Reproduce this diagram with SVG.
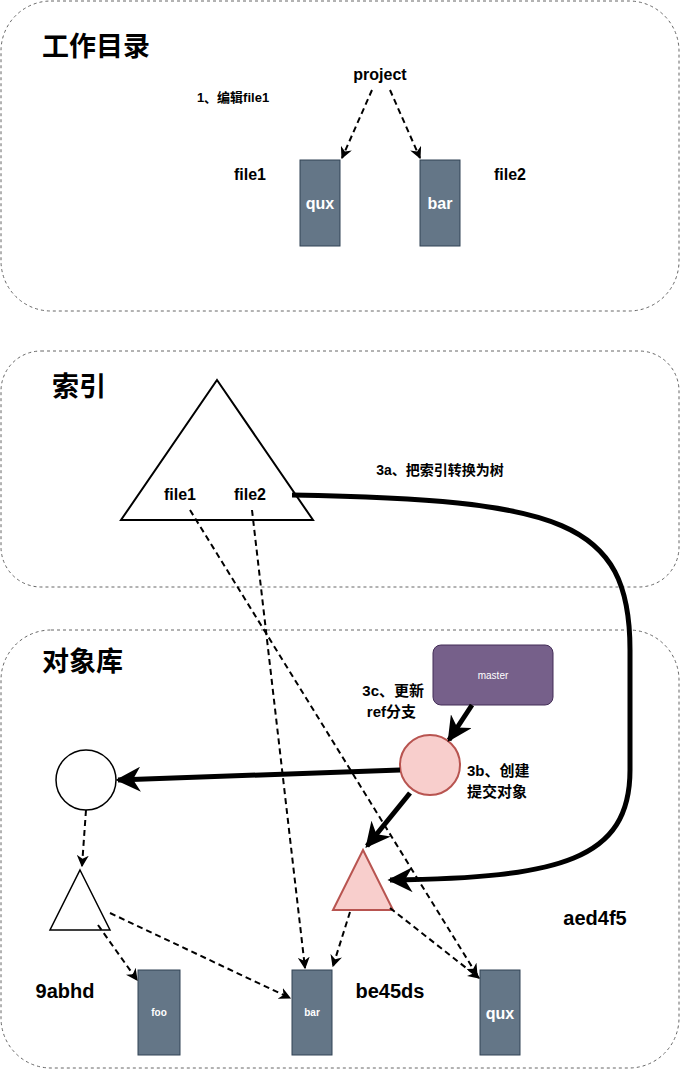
<svg xmlns="http://www.w3.org/2000/svg" width="681" height="1071" viewBox="0 0 681 1071">
<defs>
<style>
text{font-family:"Liberation Sans","Noto Sans CJK SC",sans-serif;font-weight:bold;fill:#000}
.sec{fill:#fff;stroke:#666;stroke-dasharray:3 3}
.blk{fill:#647687;stroke:#314354}
.d{fill:none;stroke:#000;stroke-width:2;stroke-dasharray:6 4}
.t{fill:none;stroke:#000;stroke-width:5}
</style>
<marker id="a" viewBox="0 0 10 10" refX="9" refY="5" markerWidth="5" markerHeight="5" orient="auto"><path d="M0,0 L10,5 L0,10 L3,5 z"/></marker>
<marker id="b" viewBox="0 0 10 10" refX="9" refY="5" markerWidth="6" markerHeight="6" orient="auto"><path d="M0,0 L10,5 L0,10 L3,5 z"/></marker>
</defs>
<g id="sec1"><rect class="sec" x="1" y="1" width="678" height="310" rx="50"/><text x="42" y="56" font-size="27">工作目录</text></g>
<g id="sec2"><rect class="sec" x="1" y="351" width="678" height="236" rx="40"/><text x="52" y="396" font-size="27">索引</text></g>
<g id="sec3"><rect class="sec" x="1" y="630" width="678" height="438" rx="50"/><text x="42" y="671" font-size="27">对象库</text></g>
<g id="project"><text x="380" y="80" font-size="16" text-anchor="middle">project</text></g>
<g id="note1"><text x="233" y="102" font-size="13" text-anchor="middle">1、编辑file1</text></g>
<g id="qux1"><rect class="blk" x="300" y="160" width="40" height="86"/><text x="320" y="209" font-size="16" text-anchor="middle" style="fill:#fff">qux</text></g>
<g id="bar1"><rect class="blk" x="420" y="160" width="40" height="86"/><text x="440" y="209" font-size="16" text-anchor="middle" style="fill:#fff">bar</text></g>
<g id="lf1"><text x="250" y="180" font-size="16" text-anchor="middle">file1</text></g>
<g id="lf2"><text x="510" y="180" font-size="16" text-anchor="middle">file2</text></g>
<g id="index"><path d="M217,380 L313,520 L121,520 Z" fill="#fff" stroke="#000" stroke-width="2"/><text x="180" y="500" font-size="16" text-anchor="middle">file1</text><text x="250" y="500" font-size="16" text-anchor="middle">file2</text></g>
<g id="note3a"><text x="440" y="475" font-size="14" text-anchor="middle">3a、把索引转换为树</text></g>
<g id="master"><rect x="433" y="645" width="120" height="60" rx="8" fill="#76608a" stroke="#432d57"/><text x="493" y="679" font-size="10" text-anchor="middle" style="fill:#fff;font-weight:normal">master</text></g>
<g id="commit"><circle cx="430" cy="765" r="30" fill="#f8cecc" stroke="#b85450" stroke-width="2"/></g>
<g id="oldcommit"><circle cx="86" cy="780" r="30" fill="#fff" stroke="#000" stroke-width="1.5"/></g>
<g id="tree"><path d="M363,850 L393,910 L333,910 Z" fill="#f8cecc" stroke="#b85450" stroke-width="2"/></g>
<g id="oldtree"><path d="M80,870 L110,930 L50,930 Z" fill="#fff" stroke="#000" stroke-width="1.5"/></g>
<g id="foo"><rect class="blk" x="138" y="970" width="42" height="85"/><text x="159" y="1016" font-size="10" text-anchor="middle" style="fill:#fff">foo</text></g>
<g id="bar2"><rect class="blk" x="292" y="970" width="40" height="85"/><text x="312" y="1016" font-size="10" text-anchor="middle" style="fill:#fff">bar</text></g>
<g id="qux2"><rect class="blk" x="480" y="970" width="40" height="85"/><text x="500" y="1019" font-size="16" text-anchor="middle" style="fill:#fff">qux</text></g>
<g id="labels"><text x="65" y="998" font-size="20" text-anchor="middle">9abhd</text><text x="390" y="998" font-size="20" text-anchor="middle">be45ds</text><text x="595" y="925" font-size="20" text-anchor="middle">aed4f5</text>
<text x="424" y="696" font-size="15" text-anchor="end">3c、更新</text><text x="416" y="717" font-size="15" text-anchor="end">ref分支</text>
<text x="467" y="776" font-size="15">3b、创建</text><text x="467" y="797" font-size="15">提交对象</text></g>
<g id="connectors">
<path class="d" d="M372,90 L342,158" marker-end="url(#b)"/>
<path class="d" d="M390,90 L420,158" marker-end="url(#b)"/>
<path class="d" d="M190,510 L477,975" marker-end="url(#b)"/>
<path class="d" d="M252,510 L305,968" marker-end="url(#b)"/>
<path class="d" d="M86,810 L82,866" marker-end="url(#b)"/>
<path class="d" d="M98,925 L137,980" marker-end="url(#b)"/>
<path class="d" d="M110,913 L290,998" marker-end="url(#b)"/>
<path class="d" d="M350,912 L333,966" marker-end="url(#b)"/>
<path class="d" d="M390,908 L479,978" marker-end="url(#b)"/>
<path class="t" d="M292,495 C560,500 630,520 630,650 L630,770 C630,860 560,878 390,880" marker-end="url(#a)"/>
<path class="t" d="M472,705 L449,740" marker-end="url(#a)"/>
<path class="t" d="M400,770 L118,780" marker-end="url(#a)"/>
<path class="t" d="M410,793 L367,846" marker-end="url(#a)"/>
</g>
</svg>
